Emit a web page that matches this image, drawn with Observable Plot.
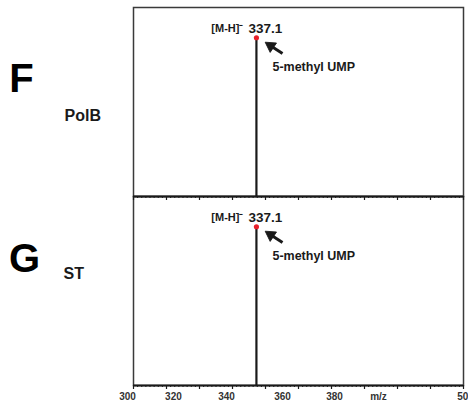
<!DOCTYPE html>
<html><head><meta charset="utf-8">
<script src="https://cdn.jsdelivr.net/npm/d3@7"></script>
<script src="https://cdn.jsdelivr.net/npm/@observablehq/plot@0.6"></script>
<style>body{margin:0;background:#fff}#chart{width:468px;height:402px;overflow:hidden}</style>
</head><body><div id="chart"></div>
<script>
const panels = ["PolB", "ST"];
const panelLetters = ["F", "G"];
const peakX = [374.5, 374.5];
const peakY = [84, 84];
const peakLabels = ["337.1", "337.1"];
const ionLabels = ["[M-H]⁻", "[M-H]⁻"];
const compoundLabels = ["5-methyl UMP", "5-methyl UMP"];
const xTickLabels = ["300", "320", "340", "360", "380", "m/z", "500"];
const xTickLabelPos = [296.4, 324.2, 356.4, 390.3, 421.8, 448.5, 501.2];
const majorTicks = [300, 320, 340, 360, 380, 400, 420, 440, 460, 480, 500];
const minorTicks = d3.range(300, 500.01, 2.5);

const peaks = panels.map((p, i) => ({panel: p, x: peakX[i], y: peakY[i], label: peakLabels[i],
  ion: ionLabels[i], compound: compoundLabels[i], letter: panelLetters[i]}));
const tickRows = xTickLabels.map((t, i) => ({label: t, pos: xTickLabelPos[i], panel: panels[1]}));
const font = "'Liberation Sans', Arial, sans-serif";
const ink = "#1a1a1a";

const chart = Plot.plot({
  width: 468, height: 402,
  marginLeft: 133, marginRight: 5, marginTop: 6, marginBottom: 17,
  style: {fontFamily: font, background: "#fff", color: ink},
  x: {domain: [300, 500], axis: null},
  y: {domain: [0, 100], axis: null},
  fy: {domain: panels, axis: null, padding: 0},
  marks: [
    Plot.frame({stroke: "#3a3a3a", strokeWidth: 1.5}),
    Plot.axisX({ticks: minorTicks, tickSize: 2, text: null, facetAnchor: null, anchor: "bottom", strokeWidth: 1}),
    Plot.axisX({ticks: majorTicks, tickSize: 4, text: null, facetAnchor: null, anchor: "bottom", strokeWidth: 1.2}),
    Plot.ruleY(peaks, {y: 0, fy: "panel", stroke: ink, strokeWidth: 2}),
    Plot.ruleX(peaks, {x: "x", y1: 0, y2: "y", fy: "panel", stroke: ink, strokeWidth: 2.2}),
    Plot.dot(peaks, {x: "x", y: "y", fy: "panel", r: 2.6, fill: "#e8202a"}),
    Plot.text(peaks, {x: "x", y: "y", fy: "panel", text: "label", textAnchor: "start", dx: -8, dy: -9,
      fontSize: 13.5, fontWeight: "bold", fill: ink}),
    Plot.text(peaks, {x: "x", y: "y", fy: "panel", text: "ion", textAnchor: "end", dx: -13, dy: -9,
      fontSize: 11, fontWeight: "bold", fill: ink}),
    Plot.link(peaks, {x1: d => d.x + 15.8, y1: d => d.y - 8.4, x2: d => d.x + 9.5, y2: d => d.y - 4.8,
      fy: "panel", stroke: ink, strokeWidth: 3}),
    Plot.dot(peaks, {x: d => d.x + 8.6, y: d => d.y - 4.3, fy: "panel", symbol: "triangle", r: 4.2,
      rotate: -56, fill: ink, stroke: ink, strokeWidth: 0.8}),
    Plot.text(peaks, {x: "x", y: "y", fy: "panel", text: "compound", textAnchor: "start", dx: 16, dy: 29,
      fontSize: 12.5, fontWeight: "bold", fill: ink}),
    Plot.text([peaks[0]], {fy: "panel", text: "letter", frameAnchor: "top-left", textAnchor: "middle", lineAnchor: "middle",
      dx: -112, dy: 72, fontSize: 40, fontWeight: "bold", fill: "#000"}),
    Plot.text([peaks[1]], {fy: "panel", text: "letter", frameAnchor: "top-left", textAnchor: "middle", lineAnchor: "middle",
      dx: -109, dy: 63, fontSize: 40, fontWeight: "bold", fill: "#000"}),
    Plot.text([peaks[0]], {fy: "panel", text: "panel", frameAnchor: "top-left", textAnchor: "start", lineAnchor: "middle",
      dx: -69, dy: 108, fontSize: 16, fontWeight: "bold", fill: ink}),
    Plot.text([peaks[1]], {fy: "panel", text: "panel", frameAnchor: "top-left", textAnchor: "start", lineAnchor: "middle",
      dx: -70, dy: 77, fontSize: 16, fontWeight: "bold", fill: ink}),
    Plot.text(tickRows, {x: "pos", fy: "panel", text: "label", frameAnchor: "bottom", lineAnchor: "middle", dy: 11,
      fontSize: 10, fontWeight: "bold", fill: "#333"})
  ]
});
document.getElementById("chart").appendChild(chart);
</script>
</body></html>
